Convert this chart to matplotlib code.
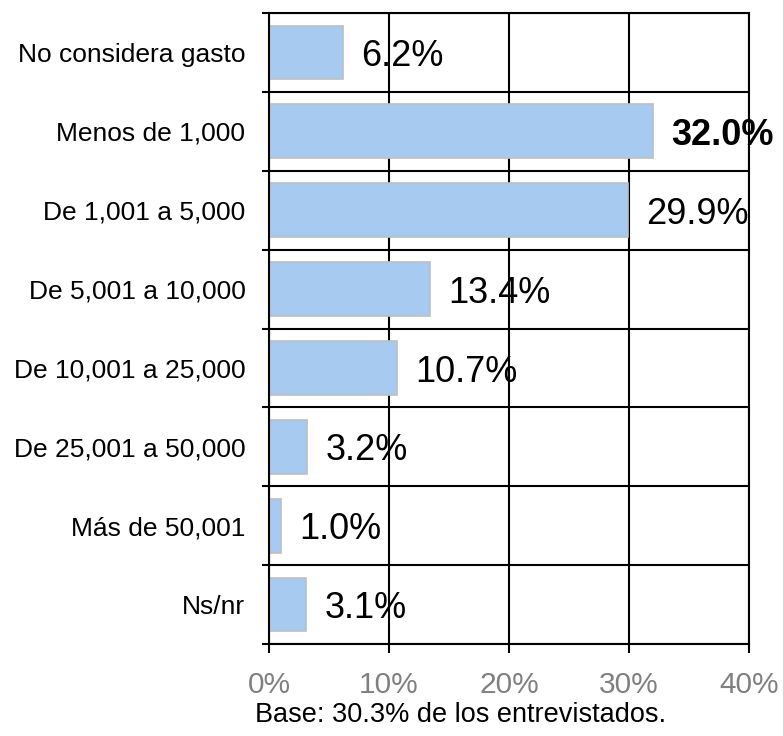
import matplotlib.pyplot as plt
import numpy as np

plt.rcParams['font.family'] = ['Liberation Sans', 'DejaVu Sans']

categories = ["No considera gasto", "Menos de 1,000", "De 1,001 a 5,000",
              "De 5,001 a 10,000", "De 10,001 a 25,000", "De 25,001 a 50,000",
              "Más de 50,001", "Ns/nr"]
values = [6.2, 32.0, 29.9, 13.4, 10.7, 3.2, 1.0, 3.1]
x_ticks = [0, 10, 20, 30, 40]
base_note = "Base: 30.3% de los entrevistados."

fig = plt.figure(figsize=(7.83, 7.36), dpi=100)
ax = fig.add_axes([269 / 783, 1 - 644 / 736, 480 / 783, 631 / 736])

ypos = np.arange(len(categories))
ax.barh(ypos, values, height=0.68, color="#A6CAF0", edgecolor="#BFBFBF",
        linewidth=1.2, zorder=2)

top = max(values)
for y, v in zip(ypos, values):
    bold = v == top
    t = ax.annotate(f"{v:.1f}%", xy=(v, y), xytext=(13, -3),
                    textcoords="offset points", va="center", ha="left",
                    fontsize=26, fontweight="bold" if bold else "normal",
                    zorder=1, annotation_clip=False)
    t.set_clip_on(not bold)

ax.set_xlim(0, 40)
ax.set_ylim(len(categories) - 0.5, -0.5)

ax.set_xticks(x_ticks)
ax.set_xticklabels([f"{t}%" for t in x_ticks], color="#808080", fontsize=21.5)
ax.tick_params(axis="x", direction="out", length=6.5, width=1.5, pad=13)

ax.set_yticks(ypos)
ax.set_yticklabels(categories, fontsize=19)
ax.set_yticks(np.arange(-0.5, len(categories)), minor=True)
ax.tick_params(axis="y", which="major", length=0, pad=17)
ax.tick_params(axis="y", which="minor", direction="out", length=5, width=1.5)

ax.set_axisbelow("line")
ax.grid(axis="x", which="major", color="black", linewidth=1.5)
ax.grid(axis="y", which="minor", color="black", linewidth=1.5)
for s in ax.spines.values():
    s.set_linewidth(1.5)

fig.text(461 / 783, 1 - 715 / 736, base_note, ha="center", va="center",
         fontsize=19.5)

fig.savefig("out.png", dpi=100)
